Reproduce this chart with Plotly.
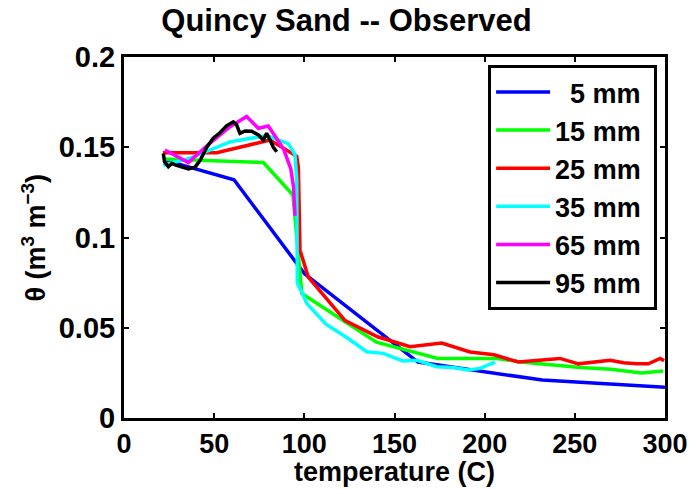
import plotly.graph_objects as go

# ---- data (temperature in C, theta in m3 m-3) ----
t_5mm = [22, 61, 100, 163, 232, 300]
v_5mm = [0.143, 0.132, 0.080, 0.031, 0.021, 0.017]

t_15mm = [22, 40, 77.3, 93.7, 96, 98.6, 121.5, 140, 174, 207, 220, 253, 270, 287, 299]
v_15mm = [0.1435, 0.143, 0.1415, 0.1235, 0.100, 0.069, 0.054, 0.042, 0.033, 0.033, 0.031, 0.028, 0.027, 0.025, 0.026]

t_25mm = [21.6, 51.4, 81, 89.3, 95.8, 96.7, 97.6, 102.2, 122.6, 140.6, 158.6, 176.2, 191.9, 205.2,
          218.7, 241.8, 252, 269.5, 277, 284.4, 290.8, 297.3, 299.5]
v_25mm = [0.147, 0.147, 0.154, 0.149, 0.145, 0.139, 0.093, 0.078, 0.054, 0.045, 0.0395, 0.0415, 0.0366, 0.035,
          0.031, 0.033, 0.030, 0.032, 0.0306, 0.030, 0.030, 0.033, 0.0317]

t_35mm = [21.8, 36.6, 58.8, 79.1, 91.1, 94.8, 95.8, 96.1, 99.4, 101.3, 112, 123.5, 134.6, 143.8, 154.5,
          162.5, 173.4, 182.6, 191, 197.4, 205.8]
v_35mm = [0.140, 0.144, 0.153, 0.1565, 0.152, 0.146, 0.132, 0.0746, 0.068, 0.0635, 0.052, 0.0446, 0.0367, 0.0358, 0.0316,
          0.032, 0.0284, 0.028, 0.0266, 0.0275, 0.031]

t_65mm = [22.7, 35.7, 45, 52, 58.8, 68, 74.5, 80, 84, 88.5, 92.5, 94, 94.8]
v_65mm = [0.1485, 0.1415, 0.150, 0.156, 0.1614, 0.167, 0.1605, 0.1618, 0.156, 0.149, 0.138, 0.128, 0.112]

t_95mm = [21.8, 22.5, 24.6, 26.6, 29.2, 32, 35.7, 39.4, 42.2, 45.9, 49.5, 53.2, 57, 60.6, 62.5, 64.3,
          67.1, 70.8, 74.5, 77.3, 79.1, 81, 82.8, 84.7]
v_95mm = [0.1466, 0.142, 0.1392, 0.141, 0.140, 0.139, 0.138, 0.139, 0.1427, 0.150, 0.155, 0.158, 0.162, 0.164, 0.1623, 0.1577,
          0.159, 0.1589, 0.1568, 0.154, 0.1577, 0.154, 0.150, 0.1475]

series = [
    ("\u00a0\u00a05 mm", t_5mm, v_5mm, "#0000ff"),
    ("15 mm", t_15mm, v_15mm, "#00ff00"),
    ("25 mm", t_25mm, v_25mm, "#ff0000"),
    ("35 mm", t_35mm, v_35mm, "#00ffff"),
    ("65 mm", t_65mm, v_65mm, "#ff00ff"),
    ("95 mm", t_95mm, v_95mm, "#000000"),
]

x_ticks = [0, 50, 100, 150, 200, 250, 300]
y_ticks = [0, 0.05, 0.1, 0.15, 0.2]
y_tick_labels = ["0", "0.05", "0.1", "0.15", "0.2"]

x_label = "temperature (C)"
y_label = "\u03b8 (m<sup>3</sup> m<sup>\u22123</sup>)"
title_text = "Quincy Sand -- Observed"

FONT = "Liberation Sans"

fig = go.Figure()
for name, t, v, c in series:
    fig.add_trace(go.Scatter(x=t, y=v, mode="lines", name=name + "\u00a0",
                             line=dict(color=c, width=3.5)))

axis_common = dict(
    showline=True, linecolor="black", linewidth=3, mirror="ticks",
    ticks="inside", ticklen=5, tickwidth=2, tickcolor="black",
    showgrid=False, zeroline=False, automargin=False,
)

fig.update_layout(
    width=693, height=489,
    margin=dict(l=124, r=28, t=57, b=71, autoexpand=False),
    plot_bgcolor="white", paper_bgcolor="white",
    title=dict(text=title_text, x=0.5, xanchor="center",
               y=0.958, yanchor="middle", automargin=False,
               font=dict(family=FONT, size=31, color="black", weight="bold")),
    xaxis=dict(range=[0, 300], tickvals=x_ticks,
               tickfont=dict(family=FONT, size=27, color="black", weight="bold"),
               **axis_common),
    yaxis=dict(range=[0, 0.2], tickvals=y_ticks, ticktext=y_tick_labels,
               tickfont=dict(family=FONT, size=29, color="black", weight="bold"),
               **axis_common),
    legend=dict(x=0.673, y=0.978, xanchor="left", yanchor="top",
                bgcolor="white", bordercolor="black", borderwidth=3,
                font=dict(family=FONT, size=27, color="black", weight="bold"),
                itemwidth=54, tracegroupgap=0),
    showlegend=True,
    annotations=[
        dict(text=x_label, xref="paper", yref="paper", x=0.5, y=-0.149,
             xanchor="center", yanchor="middle", showarrow=False,
             font=dict(family=FONT, size=27, color="black", weight="bold")),
        dict(text=y_label, xref="paper", yref="paper", x=-0.168, y=0.5,
             xanchor="center", yanchor="middle", showarrow=False, textangle=-90,
             font=dict(family=FONT, size=27, color="black", weight="bold")),
    ],
)

fig.write_html("out.html", config={"displayModeBar": False},
               post_script="document.body.style.margin='0';")
